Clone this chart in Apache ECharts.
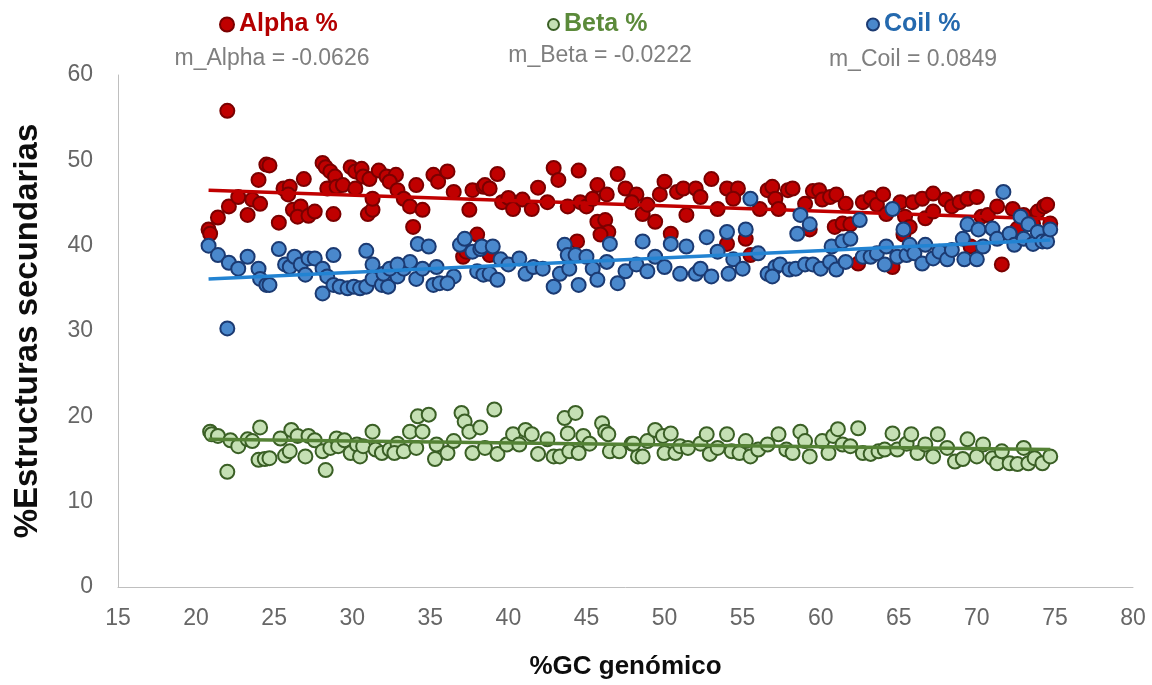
<!DOCTYPE html>
<html>
<head>
<meta charset="utf-8">
<script src="https://cdn.jsdelivr.net/npm/echarts@6/dist/echarts.min.js"></script>
<style>
  html, body { margin: 0; padding: 0; background: #ffffff; }
  #chart { width: 1152px; height: 685px; }
</style>
</head>
<body>
<div id="chart"></div>
<script>
// Secondary-structure content per genome vs. genomic GC content: [%GC, %structure]
const alpha = [
  [22.0,55.8],[24.5,49.5],[24.7,49.4],[24.0,47.7],[20.8,41.9],[20.9,41.4],[21.4,43.3],[22.1,44.6],
  [22.7,45.7],[23.3,43.6],[23.6,45.4],[24.1,44.9],[25.3,42.7],[25.6,46.7],[26.0,46.9],[25.9,46.0],
  [26.2,44.2],[26.7,44.6],[26.5,43.4],[27.2,43.5],[27.6,44.0],[26.9,47.8],[28.1,49.7],[28.3,49.2],
  [28.6,48.7],[28.9,48.1],[28.4,46.7],[29.0,46.9],[29.4,47.1],[28.8,43.7],[29.9,49.2],[30.2,48.7],
  [30.6,49.0],[30.7,48.1],[31.1,47.8],[30.2,46.7],[31.7,48.8],[32.2,48.1],[32.8,48.3],[32.4,47.5],
  [32.9,46.5],[33.3,45.5],[33.7,44.6],[31.0,43.7],[31.3,44.2],[31.3,45.5],[33.9,42.2],[34.5,44.2],
  [34.1,47.1],[35.2,48.3],[35.5,47.5],[36.1,48.7],[36.5,46.3],[37.5,44.2],[37.7,46.5],[38.4,46.9],
  [38.0,41.3],[37.1,38.7],[37.3,39.3],[38.5,47.1],[38.8,46.7],[39.3,48.4],[39.6,45.1],[40.0,45.6],
  [40.3,44.3],[40.9,45.4],[41.5,44.3],[41.9,46.8],[42.5,45.1],[42.9,49.1],[43.2,47.7],[43.8,44.6],
  [44.6,45.1],[45.0,44.6],[45.4,45.5],[44.5,48.8],[45.7,47.1],[46.3,46.0],[45.7,42.8],[46.2,43.0],
  [46.4,41.6],[45.9,41.3],[44.4,40.5],[38.8,38.9],[47.0,48.4],[47.5,46.7],[48.2,46.0],[47.9,45.1],
  [48.6,43.7],[48.9,44.8],[49.4,42.8],[49.7,46.0],[50.0,47.5],[50.8,46.3],[51.2,46.7],[52.0,46.7],
  [52.3,45.7],[50.4,41.4],[51.4,43.6],[53.0,47.8],[54.0,46.7],[54.7,46.7],[54.4,45.5],[53.4,44.3],
  [54.0,40.2],[55.2,40.8],[55.5,38.9],[56.6,46.5],[56.9,46.9],[57.1,45.5],[56.1,44.3],[57.3,44.3],
  [57.9,46.5],[58.2,46.7],[59.0,44.9],[59.5,46.4],[59.9,46.5],[60.1,45.4],[60.6,45.7],[61.0,46.0],
  [61.6,44.9],[60.9,42.2],[61.4,42.6],[61.9,42.5],[59.3,41.9],[62.7,45.1],[63.2,45.6],[63.6,44.8],
  [64.0,46.0],[64.2,43.7],[65.1,45.1],[62.4,37.9],[64.6,37.5],[65.4,43.4],[65.7,42.2],[65.3,41.3],
  [65.9,45.1],[66.5,45.5],[67.2,46.1],[68.0,45.4],[68.4,44.6],[68.9,45.1],[69.4,45.5],[70.0,45.7],
  [66.7,43.2],[67.2,44.0],[69.6,39.9],[70.3,43.4],[70.7,43.6],[71.3,44.6],[72.3,44.3],[73.0,43.6],
  [73.9,44.0],[74.3,44.6],[74.5,44.8],[71.6,37.8],[72.6,42.0],[73.6,42.6],[74.7,42.6]
];
const beta = [
  [20.9,18.2],[21.0,17.9],[21.4,17.7],[22.2,17.2],[22.7,16.5],[23.3,17.3],[23.6,17.1],[24.1,18.7],
  [22.0,13.5],[24.0,14.9],[24.4,15.0],[24.7,15.1],[25.4,17.4],[25.7,15.4],[26.0,15.9],[26.1,18.4],
  [26.5,17.7],[27.0,15.3],[27.2,17.7],[27.6,17.2],[28.1,15.9],[28.3,13.7],[28.6,16.3],[29.0,17.4],
  [29.1,16.5],[29.5,17.2],[29.9,15.7],[30.3,16.7],[30.5,15.3],[30.7,16.5],[31.3,18.2],[31.5,16.1],
  [31.9,15.7],[32.4,16.1],[32.9,16.8],[32.7,15.7],[33.3,15.9],[33.7,18.2],[34.2,20.0],[34.5,18.2],
  [34.9,20.2],[34.1,16.3],[35.4,16.7],[35.3,15.0],[36.1,15.7],[36.5,17.1],[37.0,20.4],[37.2,19.4],
  [37.5,18.2],[37.7,15.7],[38.2,18.7],[38.5,16.3],[39.1,20.8],[39.3,15.6],[39.9,16.7],[40.3,17.9],
  [40.7,16.7],[41.1,18.4],[41.5,17.9],[41.9,15.6],[42.5,17.3],[42.9,15.3],[43.3,15.3],[43.6,19.8],
  [43.8,18.0],[43.9,15.9],[44.3,20.4],[44.5,15.7],[44.8,17.7],[45.2,16.8],[46.0,19.2],[46.2,18.2],
  [46.4,17.9],[46.5,15.9],[47.1,15.9],[47.9,16.8],[48.3,15.3],[48.0,16.8],[48.6,15.3],[48.9,17.1],
  [49.4,18.4],[49.9,17.7],[50.4,18.0],[50.0,15.7],[50.7,15.7],[51.0,16.5],[51.5,16.3],[52.3,16.8],
  [52.7,17.9],[52.9,15.6],[53.4,16.3],[54.0,17.9],[54.3,15.9],[54.8,15.7],[55.2,17.1],[55.5,15.3],
  [56.0,16.1],[56.6,16.7],[57.3,17.9],[57.8,16.1],[58.2,15.7],[58.7,18.2],[59.0,17.1],[59.3,15.3],
  [60.1,17.1],[60.5,15.7],[60.8,17.7],[61.1,18.5],[61.4,16.7],[61.9,16.5],[62.4,18.6],[62.7,15.7],
  [63.2,15.6],[63.7,15.9],[64.1,16.1],[64.6,18.0],[64.9,16.1],[65.5,16.8],[65.8,17.9],[66.2,15.7],
  [66.7,16.7],[67.2,15.3],[67.5,17.9],[68.1,16.3],[68.6,14.7],[69.1,15.0],[69.4,17.3],[70.0,15.3],
  [70.4,16.7],[71.0,15.1],[71.3,14.5],[71.6,15.9],[72.1,14.5],[72.6,14.4],[73.0,16.3],[73.3,14.5],
  [73.7,15.1],[74.2,14.5],[74.7,15.3]
];
const coil = [
  [22.0,30.3],[20.8,40.0],[21.4,38.9],[22.1,38.0],[22.7,37.3],[23.3,38.7],[24.0,37.3],[24.1,36.1],
  [24.5,35.4],[24.7,35.4],[25.3,39.6],[25.7,37.8],[26.0,37.5],[26.3,38.7],[26.7,37.8],[27.0,36.6],
  [27.2,38.5],[27.6,38.5],[28.1,37.3],[28.4,36.4],[28.1,34.4],[28.8,38.9],[28.8,35.4],[29.2,35.2],
  [29.7,35.0],[30.1,35.2],[30.5,35.0],[30.9,35.2],[31.3,36.1],[31.9,35.4],[32.3,35.2],[32.9,36.4],
  [33.3,37.3],[33.7,38.1],[30.9,39.4],[31.3,37.8],[32.0,36.7],[32.4,37.3],[32.9,37.8],[34.2,40.2],
  [34.9,39.9],[34.1,36.1],[34.5,37.3],[35.4,37.5],[36.5,36.4],[35.2,35.4],[35.6,35.6],[36.1,35.6],
  [36.9,40.1],[37.2,40.8],[37.7,39.3],[38.2,39.6],[38.0,37.0],[38.4,36.6],[38.3,39.9],[39.0,39.9],
  [39.5,38.4],[40.0,37.8],[40.7,38.5],[41.1,36.7],[41.6,37.5],[42.2,37.3],[38.8,36.7],[39.3,36.0],
  [42.9,35.2],[43.3,36.7],[43.9,37.3],[44.5,35.4],[43.6,40.1],[43.8,38.9],[44.3,38.9],[45.0,38.7],
  [45.4,37.3],[45.7,36.0],[46.3,38.1],[46.5,40.2],[47.0,35.6],[47.5,37.0],[48.2,37.8],[48.6,40.5],
  [48.9,37.0],[49.4,38.7],[50.0,37.5],[50.4,40.2],[51.0,36.7],[51.4,39.9],[52.0,36.7],[52.3,37.3],
  [52.7,41.0],[53.0,36.4],[53.4,39.3],[54.0,41.6],[54.1,36.7],[54.4,38.4],[55.0,37.3],[55.2,41.9],
  [56.0,39.1],[56.6,36.7],[57.1,37.5],[55.5,45.5],[56.9,36.4],[57.4,37.8],[58.0,37.2],[58.4,37.3],
  [59.0,37.8],[59.5,37.8],[60.0,37.3],[60.6,38.1],[61.0,37.2],[61.6,38.1],[58.7,43.6],[59.3,42.5],
  [58.5,41.4],[60.7,39.9],[61.4,40.5],[61.9,40.8],[62.5,43.0],[64.6,44.3],[62.7,38.7],[63.2,38.7],
  [63.6,39.1],[64.1,37.8],[64.2,39.9],[64.9,38.7],[65.3,41.9],[65.5,38.9],[65.7,40.1],[66.0,39.1],
  [66.5,37.9],[66.7,40.1],[67.2,38.5],[67.6,39.3],[68.1,38.4],[68.4,39.5],[69.1,40.8],[69.2,38.4],
  [69.4,42.5],[70.0,38.4],[70.1,41.9],[70.4,39.9],[71.0,42.0],[71.3,40.8],[71.7,46.3],[72.1,41.4],
  [72.4,40.1],[72.8,43.4],[73.0,40.8],[73.3,42.5],[73.6,40.2],[73.9,41.6],[74.2,40.5],[74.5,40.5],
  [74.7,41.9]
];

const seriesNames = ['Alpha %', 'Beta %', 'Coil %'];
const slopeLabels = ['m_Alpha', 'm_Beta', 'm_Coil'];
const slopes = [-0.0626, -0.0222, 0.0849];
const intercepts = [47.81, 17.77, 34.32];
const trendRange = [20.8, 74.7];

const xTicks = { min: 15, max: 80, interval: 5 };
const yTicks = { min: 0, max: 60, interval: 10 };

const pointFill = ['#C00000', '#C5E0B4', '#4A88CC'];
const pointEdge = ['#7A0000', '#3A5F25', '#1B3A72'];
const lineColor = ['#C00000', '#548235', '#2283D2'];
const labelColor = ['#B40000', '#5B8A3A', '#2469AE'];

const sets = [alpha, beta, coil];

// straight regression line evaluated at the two ends of the GC range
function trendPoints(i) {
  return trendRange.map(x => [x, slopes[i] * x + intercepts[i]]);
}

const series = [];
sets.forEach((data, i) => {
  series.push({
    name: seriesNames[i],
    type: 'scatter',
    data: data,
    symbol: 'circle',
    symbolSize: 14,
    itemStyle: { color: pointFill[i], borderColor: pointEdge[i], borderWidth: 2, opacity: 1 },
    z: 2 + i * 2,
    emphasis: { disabled: true }
  });
  series.push({
    name: seriesNames[i] + ' trend',
    type: 'line',
    data: trendPoints(i),
    symbol: 'none',
    lineStyle: { color: lineColor[i], width: 3.5 },
    z: 3 + i * 2,
    silent: true
  });
});

const legendLeft = [214, 542, 861];
const legendIcon = [14, 11, 12];
const slopeCenters = [[272, 58.5], [600, 56], [913, 59.5]];

const chart = echarts.init(document.getElementById('chart'), null, { renderer: 'canvas' });
chart.setOption({
  backgroundColor: '#ffffff',
  animation: false,
  grid: { left: 118, right: 19, top: 75, bottom: 98, containLabel: false, outerBoundsMode: 'none' },
  legend: seriesNames.map((n, i) => ({
    data: [n],
    left: legendLeft[i],
    top: 7,
    icon: 'circle',
    itemWidth: legendIcon[i],
    itemHeight: legendIcon[i],
    selectedMode: false,
    textStyle: {
      color: labelColor[i],
      fontSize: 25,
      fontWeight: 'bold',
      fontFamily: 'Liberation Sans, Arial, sans-serif'
    }
  })),
  graphic: slopeLabels.map((t, i) => ({
    type: 'text',
    x: slopeCenters[i][0],
    y: slopeCenters[i][1],
    style: {
      text: t + ' = ' + slopes[i],
      fill: '#7F7F7F',
      font: '23px "Liberation Sans", Arial, sans-serif',
      textAlign: 'center',
      textVerticalAlign: 'middle'
    }
  })),
  xAxis: {
    type: 'value',
    min: xTicks.min, max: xTicks.max, interval: xTicks.interval,
    name: '%GC genómico',
    nameLocation: 'middle',
    nameGap: 67,
    nameTextStyle: { color: '#0D0D0D', fontSize: 26, fontWeight: 'bold', fontFamily: 'Liberation Sans, Arial, sans-serif' },
    axisLine: { show: true, onZero: false, lineStyle: { color: '#BFBFBF', width: 1 } },
    axisTick: { show: false },
    splitLine: { show: false },
    axisLabel: { color: '#666666', fontSize: 23, margin: 20, fontFamily: 'Liberation Sans, Arial, sans-serif' }
  },
  yAxis: {
    type: 'value',
    min: yTicks.min, max: yTicks.max, interval: yTicks.interval,
    name: '%Estructuras secundarias',
    nameLocation: 'middle',
    nameGap: 74,
    nameRotate: 90,
    nameTextStyle: { color: '#0D0D0D', fontSize: 33, fontWeight: 'bold', fontFamily: 'Liberation Sans, Arial, sans-serif' },
    axisLine: { show: true, lineStyle: { color: '#BFBFBF', width: 1 } },
    axisTick: { show: false },
    splitLine: { show: false },
    axisLabel: { color: '#666666', fontSize: 23, margin: 25, fontFamily: 'Liberation Sans, Arial, sans-serif' }
  },
  series: series
});
</script>
</body>
</html>
